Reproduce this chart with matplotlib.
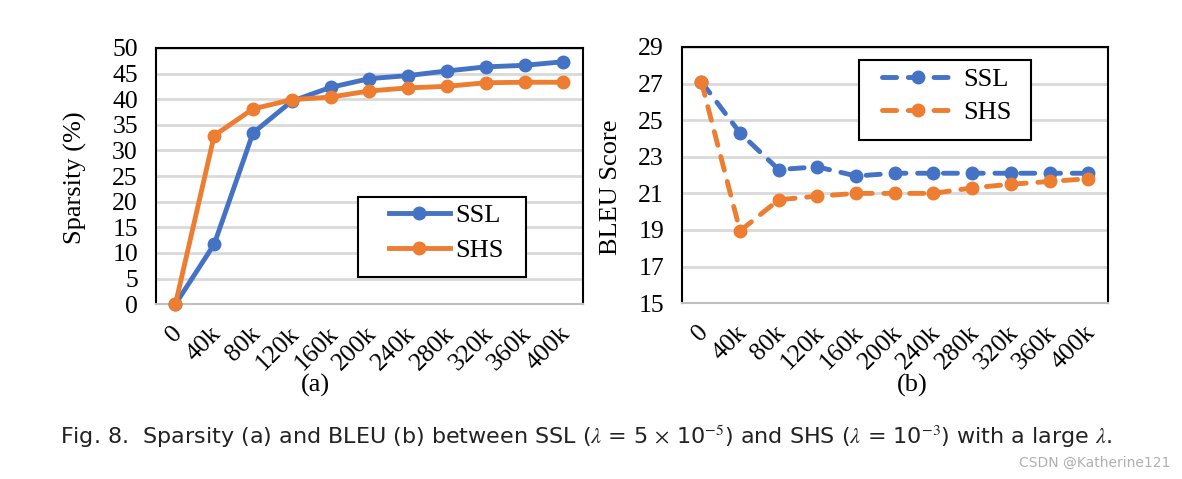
import numpy as np
import matplotlib.pyplot as plt
from matplotlib.patches import Rectangle
from matplotlib.transforms import ScaledTranslation

# Data
steps = ["0", "40k", "80k", "120k", "160k", "200k", "240k", "280k", "320k", "360k", "400k"]
ssl_sparsity = [0, 11.7, 33.4, 39.6, 42.3, 44.0, 44.6, 45.5, 46.3, 46.6, 47.3]
shs_sparsity = [0, 32.9, 38.1, 39.9, 40.4, 41.6, 42.2, 42.5, 43.2, 43.3, 43.3]
ssl_bleu = [27.1, 24.3, 22.3, 22.45, 21.95, 22.1, 22.1, 22.1, 22.1, 22.1, 22.1]
shs_bleu = [27.1, 18.95, 20.65, 20.85, 21.0, 21.0, 21.0, 21.3, 21.5, 21.65, 21.8]

blue = "#4472C4"
orange = "#ED7D31"

plt.rcParams['font.family'] = ['Liberation Serif', 'DejaVu Serif']
plt.rcParams['mathtext.fontset'] = 'stix'

fig = plt.figure(figsize=(11.82, 4.79), dpi=100)
ax1 = fig.add_axes([0.132, 0.365, 0.361, 0.535])
ax2 = fig.add_axes([0.577, 0.367, 0.360, 0.535])

x = np.arange(len(steps))
lw = 3.5
ms = 9
dash = (0, (2.9, 2.4))


def style_axes(ax, ticks):
    ax.set_xlim(-0.5, len(steps) - 0.5)
    ax.set_yticks(ticks)
    ax.set_ylim(ticks[0], ticks[-1])
    ax.yaxis.grid(True, color="#d9d9d9", linewidth=2)
    ax.set_axisbelow(True)
    ax.set_xticks(x)
    ax.set_xticklabels(steps, rotation=45, ha="right", va="top", rotation_mode="anchor")
    ax.tick_params(axis="both", length=0, labelsize=18.5)
    ax.tick_params(axis="y", pad=13)
    ax.tick_params(axis="x", pad=13)
    # nudge rotated labels a bit left, as in the original
    for lab in ax.get_xticklabels():
        lab.set_transform(lab.get_transform() + ScaledTranslation(-4 / 100, 0, fig.dpi_scale_trans))
    for s in ["top", "right", "left"]:
        ax.spines[s].set_color("black")
        ax.spines[s].set_linewidth(1.5)
    ax.spines["bottom"].set_color("#bfbfbf")
    ax.spines["bottom"].set_linewidth(1.5)


def add_legend(ax, frame, anchor, handlelength, textpad, spacing):
    ax.add_patch(Rectangle(frame[:2], frame[2], frame[3], transform=ax.transAxes,
                           facecolor="white", edgecolor="black", lw=1.5, zorder=4))
    leg = ax.legend(loc="upper left", bbox_to_anchor=anchor, fontsize=19, frameon=False,
                    borderpad=0, borderaxespad=0, handlelength=handlelength,
                    handletextpad=textpad, labelspacing=spacing)
    leg.set_zorder(5)


# (a) sparsity
ax1.plot(x, ssl_sparsity, color=blue, lw=lw, marker="o", ms=ms, label="SSL", clip_on=False, zorder=3)
ax1.plot(x, shs_sparsity, color=orange, lw=lw, marker="o", ms=ms, label="SHS", clip_on=False, zorder=3)
style_axes(ax1, np.arange(0, 51, 5))
ax1.set_ylabel("Sparsity (%)", fontsize=19)
ax1.yaxis.set_label_coords(-0.162, 0.494)
add_legend(ax1, (0.473, 0.105, 0.393, 0.315), (0.546, 0.393), 2.3, 0.2, 0.45)

# (b) BLEU
ax2.plot(x, ssl_bleu, color=blue, lw=lw, ls=dash, dash_capstyle="round", marker="o", ms=ms,
         label="SSL", clip_on=False, zorder=3)
ax2.plot(x, shs_bleu, color=orange, lw=lw, ls=dash, dash_capstyle="round", marker="o", ms=ms,
         label="SHS", clip_on=False, zorder=3)
style_axes(ax2, np.arange(15, 30, 2))
ax2.set_ylabel("BLEU Score", fontsize=19)
ax2.yaxis.set_label_coords(-0.141, 0.453)
add_legend(ax2, (0.415, 0.637, 0.404, 0.3125), (0.469, 0.918), 2.76, 0.34, 0.35)

fig.text(315 / 1182, 1 - 385 / 479, "(a)", fontsize=19, ha="center", va="center")
fig.text(912 / 1182, 1 - 385 / 479, "(b)", fontsize=19, ha="center", va="center")

fig.text(60 / 1182, 1 - 437 / 479,
         r"Fig. 8.  Sparsity (a) and BLEU (b) between SSL ($\lambda$ = 5 $\times$ 10$^{-5}$) and SHS ($\lambda$ = 10$^{-3}$) with a large $\lambda$.",
         fontsize=16, ha="left", va="center", family=["DejaVu Sans"], color="#222222")
fig.text(1170 / 1182, 1 - 463 / 479, "CSDN @Katherine121", fontsize=10, ha="right", va="center",
         family=["DejaVu Sans"], color="#b0b0b0")

fig.savefig("out.png", dpi=100)
